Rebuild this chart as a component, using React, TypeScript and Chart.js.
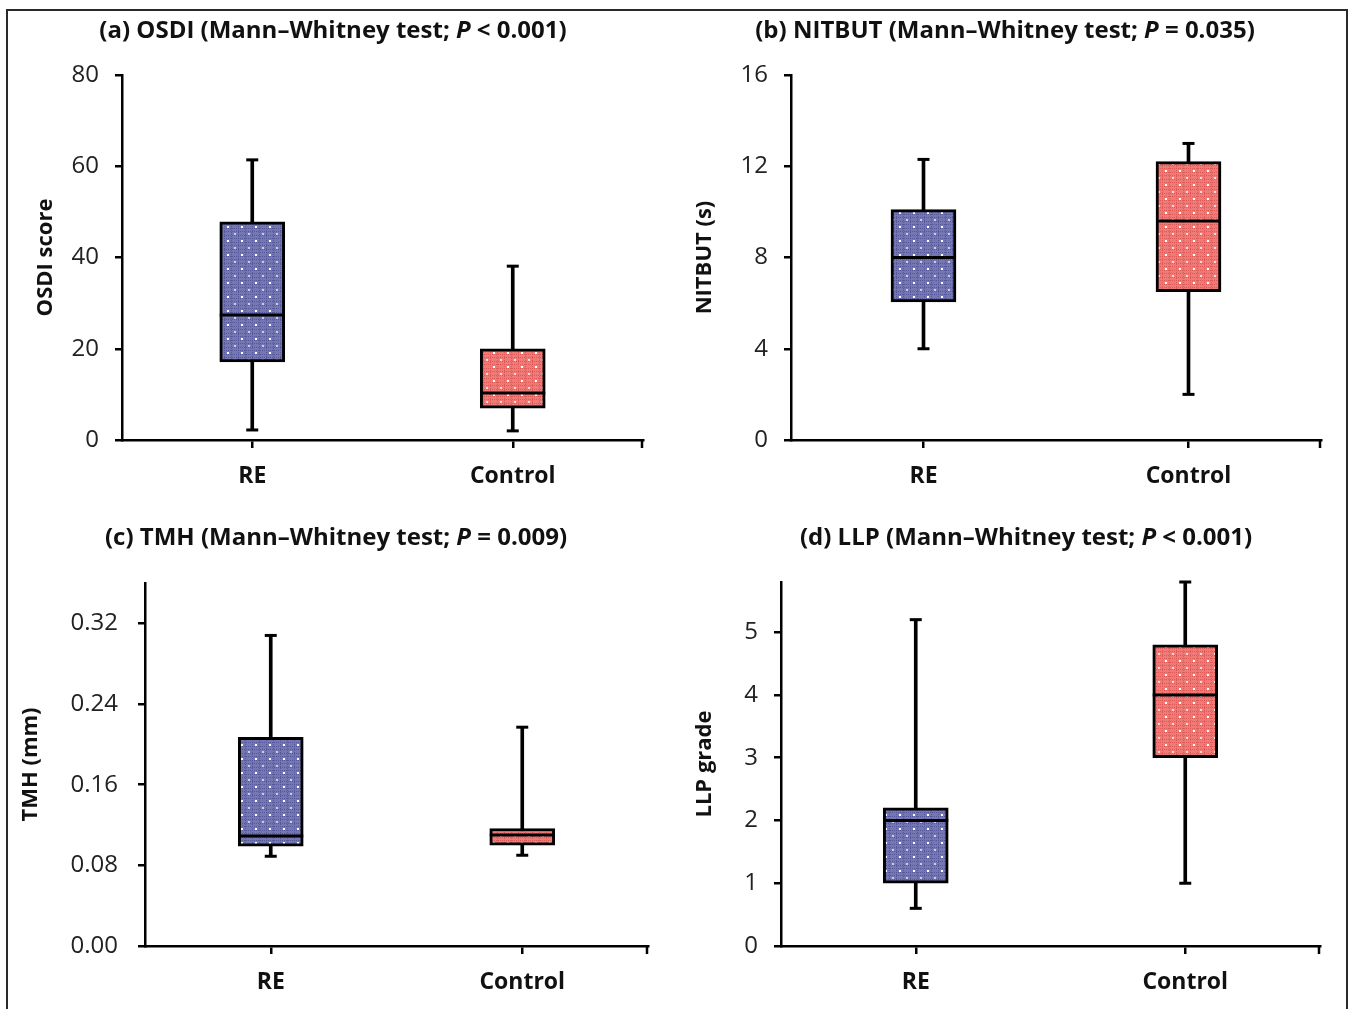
import React, { useEffect, useRef } from 'react';
import { Chart, registerables } from 'chart.js';

Chart.register(...registerables);

// ---------- data ----------
const categories = ['RE', 'Control'];

const osdiMin = [2.2, 2.0];
const osdiQ1 = [17.1, 7.0];
const osdiMedian = [27.4, 10.3];
const osdiQ3 = [47.8, 20.0];
const osdiMax = [61.4, 38.1];

const nitbutMin = [4.0, 2.0];
const nitbutQ1 = [6.05, 6.5];
const nitbutMedian = [8.0, 9.6];
const nitbutQ3 = [10.1, 12.2];
const nitbutMax = [12.3, 13.0];

const tmhMin = [0.089, 0.09];
const tmhQ1 = [0.099, 0.1];
const tmhMedian = [0.109, 0.11];
const tmhQ3 = [0.207, 0.1165];
const tmhMax = [0.308, 0.217];

const llpMin = [0.6, 1.0];
const llpQ1 = [1.0, 3.0];
const llpMedian = [2.0, 4.0];
const llpQ3 = [2.2, 4.8];
const llpMax = [5.2, 5.8];

const osdiTicks = [0, 20, 40, 60, 80];
const nitbutTicks = [0, 4, 8, 12, 16];
const tmhTicks = [0, 0.08, 0.16, 0.24, 0.32];
const llpTicks = [0, 1, 2, 3, 4, 5];

const titleA = ['(a) OSDI (Mann\u2013Whitney test; ', 'P', ' < 0.001)'];
const titleB = ['(b) NITBUT (Mann\u2013Whitney test; ', 'P', ' = 0.035)'];
const titleC = ['(c) TMH (Mann\u2013Whitney test; ', 'P', ' = 0.009)'];
const titleD = ['(d) LLP (Mann\u2013Whitney test; ', 'P', ' < 0.001)'];

// ---------- layout ----------
const PAGE_W = 1351;
const PAGE_H = 1009;
const FONT = '"Open Sans", Lato, sans-serif';

type Spec = {
  title: string[];
  titleX: number;
  titleY: number;
  yLabel: string;
  yLabelX: number;
  area: { left: number; right: number; top: number; bottom: number };
  yMax: number;
  yStep: number;
  yTicks: number[];
  decimals: number;
  tickPad: number;
  mins: number[];
  q1s: number[];
  medians: number[];
  q3s: number[];
  maxs: number[];
};

const specs: Spec[] = [
  {
    title: titleA, titleX: 333, titleY: 31, yLabel: 'OSDI score', yLabelX: 46,
    area: { left: 122, right: 643, top: 75, bottom: 440 },
    yMax: 80, yStep: 20, yTicks: osdiTicks, decimals: 0, tickPad: 16,
    mins: osdiMin, q1s: osdiQ1, medians: osdiMedian, q3s: osdiQ3, maxs: osdiMax,
  },
  {
    title: titleB, titleX: 1005, titleY: 31, yLabel: 'NITBUT (s)', yLabelX: 705,
    area: { left: 791, right: 1321, top: 75, bottom: 440 },
    yMax: 16, yStep: 4, yTicks: nitbutTicks, decimals: 0, tickPad: 16,
    mins: nitbutMin, q1s: nitbutQ1, medians: nitbutMedian, q3s: nitbutQ3, maxs: nitbutMax,
  },
  {
    title: titleC, titleX: 336, titleY: 538, yLabel: 'TMH (mm)', yLabelX: 31,
    area: { left: 145, right: 648, top: 583, bottom: 946 },
    yMax: 0.36, yStep: 0.08, yTicks: tmhTicks, decimals: 2, tickPad: 20,
    mins: tmhMin, q1s: tmhQ1, medians: tmhMedian, q3s: tmhQ3, maxs: tmhMax,
  },
  {
    title: titleD, titleX: 1026, titleY: 538, yLabel: 'LLP grade', yLabelX: 705,
    area: { left: 781, right: 1320, top: 582, bottom: 946 },
    yMax: 5.8, yStep: 1, yTicks: llpTicks, decimals: 0, tickPad: 16,
    mins: llpMin, q1s: llpQ1, medians: llpMedian, q3s: llpQ3, maxs: llpMax,
  },
];

function makePattern(base: string, dark: string, light: string): CanvasPattern | string {
  const c = document.createElement('canvas');
  c.width = 14;
  c.height = 14;
  const g = c.getContext('2d');
  if (!g) return base;
  g.fillStyle = base;
  g.fillRect(0, 0, 14, 14);
  g.fillStyle = dark;
  for (let i = 0; i < 14; i += 2) {
    g.fillRect(i, 0, 1, 1);
    g.fillRect(0, i, 1, 1);
    g.fillRect(i, 7, 1, 1);
    g.fillRect(7, i, 1, 1);
    g.fillRect(i, 4, 1, 1);
    g.fillRect(i, 11, 1, 1);
  }
  g.fillStyle = '#ffffff';
  g.fillRect(3, 2, 2, 2);
  g.fillStyle = light;
  g.fillRect(10, 9, 2, 2);
  const p = g.createPattern(c, 'repeat');
  return p || base;
}

const Y_AXIS_W = 100;
const X_AXIS_H = 70;

function Panel({ spec }: { spec: Spec }) {
  const ref = useRef<HTMLCanvasElement | null>(null);
  useEffect(() => {
    const canvas = ref.current;
    if (!canvas) return;
    const blue = makePattern('#7477b2', '#54579a', '#c9cbeb');
    const red = makePattern('#f07a77', '#dc5956', '#ffd6d4');
    const titleFontSize = 24;
    const yTitleSize = 22;
    const yTitleLH = yTitleSize * 1.2;

    const extras = {
      id: 'boxExtras',
      afterDatasetsDraw(chart: any) {
        const ctx = chart.ctx as CanvasRenderingContext2D;
        const xs = chart.scales.x;
        const ys = chart.scales.y;
        ctx.save();
        ctx.strokeStyle = '#000';
        ctx.lineCap = 'butt';
        for (let i = 0; i < categories.length; i++) {
          const x = xs.getPixelForValue(i);
          const boxMeta = chart.getDatasetMeta(0);
          const bar = boxMeta.data[i];
          const half = bar.width / 2;
          const ym = ys.getPixelForValue(spec.medians[i]);
          ctx.lineWidth = 3;
          ctx.beginPath();
          ctx.moveTo(x - half, ym);
          ctx.lineTo(x + half, ym);
          ctx.stroke();
          const capHalf = 6;
          for (const v of [spec.mins[i], spec.maxs[i]]) {
            const yc = ys.getPixelForValue(v);
            ctx.beginPath();
            ctx.moveTo(x - capHalf, yc);
            ctx.lineTo(x + capHalf, yc);
            ctx.stroke();
          }
        }
        const a = chart.chartArea;
        ctx.lineWidth = 2.5;
        ctx.beginPath();
        ctx.moveTo(a.right - 1, a.bottom);
        ctx.lineTo(a.right - 1, a.bottom + 8);
        ctx.stroke();
        ctx.restore();
      },
      afterDraw(chart: any) {
        const ctx = chart.ctx as CanvasRenderingContext2D;
        ctx.save();
        ctx.fillStyle = '#111';
        ctx.textBaseline = 'middle';
        ctx.textAlign = 'left';
        const fonts = [
          `bold ${titleFontSize}px ${FONT}`,
          `italic bold ${titleFontSize}px ${FONT}`,
          `bold ${titleFontSize}px ${FONT}`,
        ];
        const widths = spec.title.map((t, i) => {
          ctx.font = fonts[i];
          return ctx.measureText(t).width;
        });
        const total = widths.reduce((s, w) => s + w, 0);
        let x = spec.titleX - total / 2;
        spec.title.forEach((t, i) => {
          ctx.font = fonts[i];
          ctx.fillText(t, x, spec.titleY);
          x += widths[i];
        });
        ctx.restore();
      },
    };

    const chart = new Chart(canvas, {
      type: 'bar',
      data: {
        labels: categories,
        datasets: [
          {
            label: 'box',
            data: categories.map((_, i) => [spec.q1s[i], spec.q3s[i]]) as any,
            backgroundColor: [blue, red] as any,
            borderColor: '#000',
            borderWidth: 3,
            borderSkipped: false,
            barThickness: 65,
            grouped: false,
            order: 0,
          } as any,
          {
            label: 'whisker',
            data: categories.map((_, i) => [spec.mins[i], spec.maxs[i]]) as any,
            backgroundColor: '#000',
            borderWidth: 0,
            barThickness: 3,
            grouped: false,
            order: 1,
          } as any,
        ],
      },
      options: {
        responsive: false,
        animation: false,
        events: [],
        layout: {
          padding: {
            left: spec.area.left - Y_AXIS_W,
            right: PAGE_W - spec.area.right,
            top: spec.area.top,
            bottom: PAGE_H - spec.area.bottom - X_AXIS_H,
          },
        },
        plugins: {
          legend: { display: false },
          tooltip: { enabled: false },
          title: { display: false },
        },
        scales: {
          x: {
            type: 'category',
            offset: true,
            grid: {
              offset: false,
              drawOnChartArea: false,
              drawTicks: true,
              tickLength: 8,
              color: '#000',
              lineWidth: 2.5,
            },
            border: { color: '#000', width: 2.5 },
            ticks: {
              color: '#111',
              padding: 15,
              maxRotation: 0,
              font: { family: FONT, size: 23, weight: 'bold' },
            },
            afterFit: (s: any) => {
              s.height = X_AXIS_H;
            },
          },
          y: {
            type: 'linear',
            min: 0,
            max: spec.yMax,
            ticks: {
              stepSize: spec.yStep,
              padding: spec.tickPad,
              color: '#222',
              font: { family: FONT, size: 24 },
              callback: (v: any) => Number(v).toFixed(spec.decimals),
            },
            afterBuildTicks: (s: any) => {
              s.ticks = spec.yTicks.map((v) => ({ value: v }));
            },
            grid: {
              drawOnChartArea: false,
              drawTicks: true,
              tickLength: 7,
              color: '#000',
              lineWidth: 2.5,
            },
            border: { color: '#000', width: 2.5 },
            title: {
              display: true,
              text: spec.yLabel,
              color: '#111',
              font: { family: FONT, size: yTitleSize, weight: 'bold' },
              padding: {
                top: spec.yLabelX - (spec.area.left - Y_AXIS_W) - yTitleLH / 2,
                bottom: 0,
              },
            },
            afterFit: (s: any) => {
              s.width = Y_AXIS_W;
            },
          },
        },
      } as any,
      plugins: [extras],
    });
    return () => {
      chart.destroy();
    };
  }, [spec]);

  return (
    <canvas
      ref={ref}
      width={PAGE_W}
      height={PAGE_H}
      style={{ position: 'absolute', left: 0, top: 0, width: PAGE_W, height: PAGE_H }}
    />
  );
}

export default function App() {
  return (
    <div
      style={{
        position: 'absolute',
        left: 0,
        top: 0,
        width: PAGE_W,
        height: PAGE_H,
        overflow: 'hidden',
        background: '#fff',
      }}
    >
      <div
        style={{
          position: 'absolute',
          left: 6,
          top: 9,
          width: 1338,
          height: 1040,
          borderTop: '2px solid #2a2a2a',
          borderLeft: '2px solid #2a2a2a',
          borderRight: '2px solid #2a2a2a',
        }}
      />
      {specs.map((s, i) => (
        <Panel key={i} spec={s} />
      ))}
    </div>
  );
}
